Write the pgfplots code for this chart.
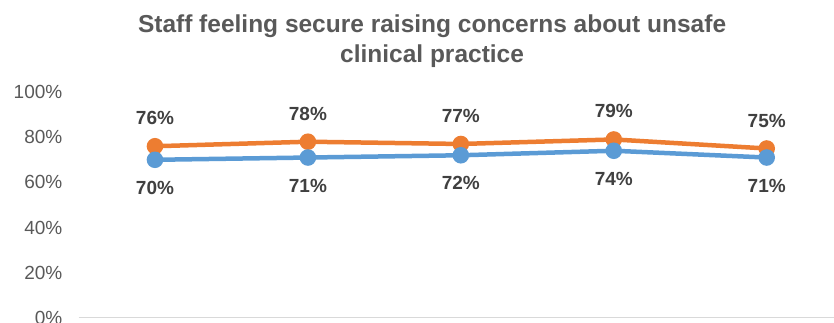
\documentclass[border=0pt]{standalone}
\usepackage{pgfplots}
\pgfplotsset{compat=1.18}
\usepackage{fontspec}
\setmainfont{Liberation Sans}

\definecolor{seriesOrange}{HTML}{ED7D31}
\definecolor{seriesBlue}{HTML}{5B9BD5}
\definecolor{tickGray}{HTML}{595959}
\definecolor{labelGray}{HTML}{404040}
\definecolor{axisGray}{HTML}{D9D9D9}

\begin{document}
\begin{tikzpicture}[x=1pt,y=1pt]
\begin{axis}[
  at={(78.5pt,5pt)}, anchor=south west,
  scale only axis,
  width=755.5pt, height=226pt,
  xmin=-0.5, xmax=4.44,
  ymin=0, ymax=100,
  axis x line*=bottom,
  axis y line*=left,
  x axis line style={axisGray, line width=1pt, -},
  y axis line style={draw=none},
  xtick=\empty,
  ytick={0,20,40,60,80,100},
  major tick length=0pt,
  /pgf/number format/assume math mode=true,
  yticklabel={\pgfmathprintnumber{\tick}\%},
  yticklabel style={font=\fontsize{19}{19}\selectfont, color=tickGray, anchor=east, inner sep=0pt, xshift=-16pt},
  title={Staff feeling secure raising concerns about unsafe\\clinical practice},
  title style={at={(axis description cs:0.468,1.20)}, anchor=center, align=center,
    font=\bfseries\fontsize{24.5}{30}\selectfont, color=tickGray},
  clip=false,
  nodes near coords={\pgfmathprintnumber{\pgfplotspointmeta}\%},
  every node near coord/.append style={font=\bfseries\fontsize{19}{19}\selectfont, color=labelGray, anchor=center},
]
% upper series, labels above the points
\addplot[seriesOrange, line width=4.5pt, mark=*, mark size=6pt,
  every node near coord/.append style={yshift=28pt}]
  coordinates {(0,76) (1,78) (2,77) (3,79) (4,75)};
% lower series, labels below the points
\addplot[seriesBlue, line width=4.5pt, mark=*, mark size=6pt,
  every node near coord/.append style={yshift=-28pt}]
  coordinates {(0,70) (1,71) (2,72) (3,74) (4,71)};
\end{axis}
\pgfresetboundingbox
\useasboundingbox (0pt,0pt) rectangle (834pt,323pt);
\end{tikzpicture}
\end{document}
